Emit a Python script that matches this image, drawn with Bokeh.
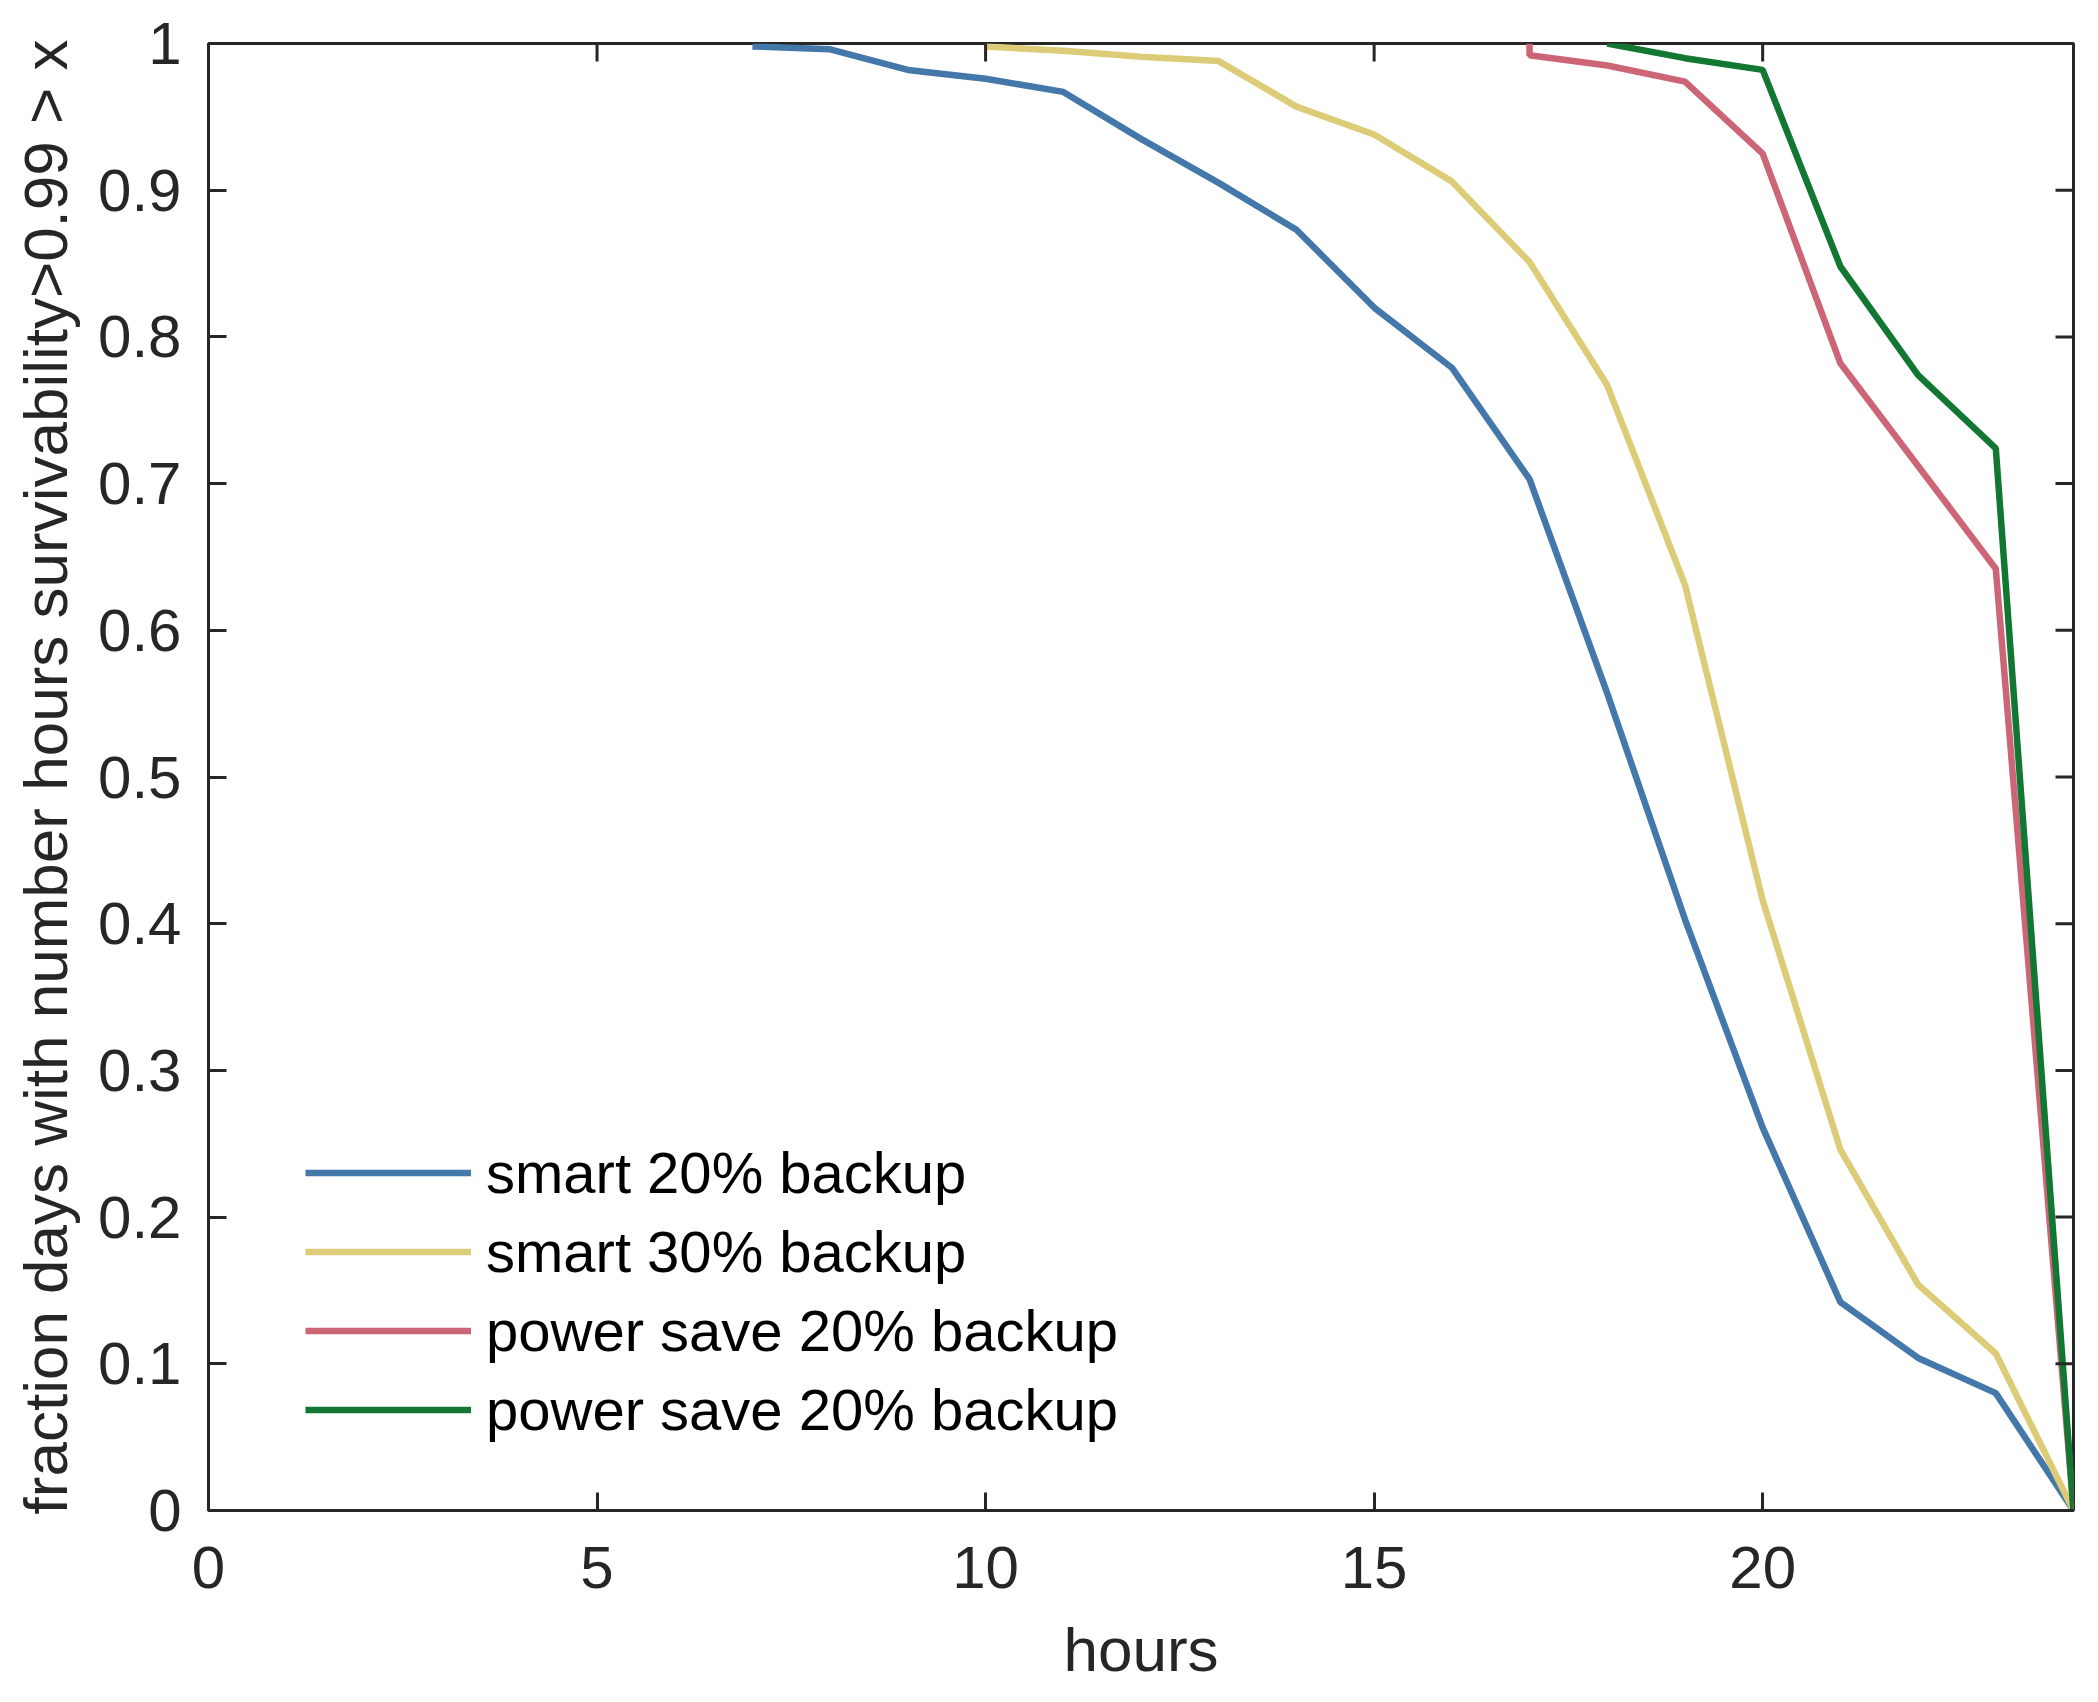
import math
from bokeh.plotting import figure
from bokeh.models import Range1d, FixedTicker, Legend, LegendItem
from bokeh.embed import file_html
from bokeh.resources import INLINE

# ---- data ----
hours_smart20 = [7, 8, 9, 10, 11, 12, 13, 14, 15, 16, 17, 18, 19, 20, 21, 22, 23, 24]
smart20 = [0.998, 0.996, 0.982, 0.976, 0.967, 0.935, 0.905, 0.873, 0.820, 0.779,
           0.703, 0.557, 0.403, 0.261, 0.142, 0.104, 0.080, 0.0]

hours_smart30 = [10, 11, 12, 13, 14, 15, 16, 17, 18, 19, 20, 21, 22, 23, 24]
smart30 = [0.998, 0.995, 0.991, 0.988, 0.957, 0.938, 0.906, 0.851, 0.767, 0.631,
           0.416, 0.246, 0.154, 0.107, 0.0]

hours_ps20a = [17, 17, 18, 19, 20, 21, 22, 23, 24]
ps20a = [1.0, 0.992, 0.985, 0.974, 0.925, 0.782, 0.712, 0.642, 0.0]

hours_ps20b = [18, 19, 20, 21, 22, 23, 24]
ps20b = [1.0, 0.990, 0.982, 0.848, 0.774, 0.724, 0.0]

series_labels = ["smart 20% backup", "smart 30% backup",
                 "power save 20% backup", "power save 20% backup"]
series_colors = ["#4477AA", "#DDCC77", "#CC6677", "#117733"]

x_ticks = [0, 5, 10, 15, 20]
x_tick_labels = ["0", "5", "10", "15", "20"]
y_ticks = [0, 0.1, 0.2, 0.3, 0.4, 0.5, 0.6, 0.7, 0.8, 0.9, 1]
y_tick_labels = ["0", "0.1", "0.2", "0.3", "0.4", "0.5", "0.6", "0.7", "0.8", "0.9", "1"]

x_title = "hours"
y_title = "fraction days with number hours survivability>0.99 > x"

FONT = "Liberation Sans"
TXT = "#262626"
TICK_LEN = 18

p = figure(width=2082, height=1686, output_backend="svg", toolbar_location=None,
           x_range=Range1d(0, 24), y_range=Range1d(0, 1),
           min_border_left=208, min_border_right=9, min_border_top=43,
           min_border_bottom=175)
p.grid.visible = False
p.outline_line_color = TXT
p.outline_line_width = 3
p.background_fill_color = "white"
p.border_fill_color = "white"

renderers = []
for xs, ys, c in [(hours_smart20, smart20, series_colors[0]),
                  (hours_smart30, smart30, series_colors[1]),
                  (hours_ps20a, ps20a, series_colors[2]),
                  (hours_ps20b, ps20b, series_colors[3])]:
    r = p.line(xs, ys, line_color=c, line_width=6.5)
    renderers.append(r)

# mirrored inward ticks on the top and right edges of the box
p.ray(x=x_ticks, y=[p.y_range.end] * len(x_ticks), length=TICK_LEN,
      length_units="screen", angle=-math.pi / 2, line_color=TXT, line_width=3)
p.ray(x=[p.x_range.end] * len(y_ticks), y=y_ticks, length=TICK_LEN,
      length_units="screen", angle=math.pi, line_color=TXT, line_width=3)

def style_axis(ax, ticks, labels):
    ax.ticker = FixedTicker(ticks=ticks)
    ax.major_label_overrides = {t: l for t, l in zip(ticks, labels)}
    ax.major_tick_in = TICK_LEN
    ax.major_tick_out = 0
    ax.minor_tick_in = 0
    ax.minor_tick_out = 0
    ax.major_tick_line_color = TXT
    ax.major_tick_line_width = 3
    ax.axis_line_color = TXT
    ax.axis_line_width = 3
    ax.major_label_text_font = FONT
    ax.major_label_text_color = TXT
    ax.major_label_text_font_size = "60px"
    ax.axis_label_text_font = FONT
    ax.axis_label_text_font_size = "62px"
    ax.axis_label_text_font_style = "normal"
    ax.axis_label_text_color = TXT

xa = p.xaxis[0]
style_axis(xa, x_ticks, x_tick_labels)
xa.major_label_standoff = 36
xa.axis_label = x_title
xa.axis_label_standoff = 24

ya = p.yaxis[0]
style_axis(ya, y_ticks, y_tick_labels)
ya.major_label_standoff = 27
ya.axis_label = y_title
ya.axis_label_standoff = 15

items = [LegendItem(label=lab, renderers=[r]) for lab, r in zip(series_labels, renderers)]
legend = Legend(items=items, location=(97, 61))
legend.border_line_color = None
legend.background_fill_alpha = 0
legend.padding = 0
legend.margin = 0
legend.spacing = 0
legend.glyph_width = 166
legend.glyph_height = 79
legend.label_standoff = 15
legend.label_text_font = FONT
legend.label_text_font_size = "58px"
legend.label_text_color = "#000000"
legend.label_height = 79
p.add_layout(legend, "center")

open("out.html", "w").write(file_html(p, INLINE))
